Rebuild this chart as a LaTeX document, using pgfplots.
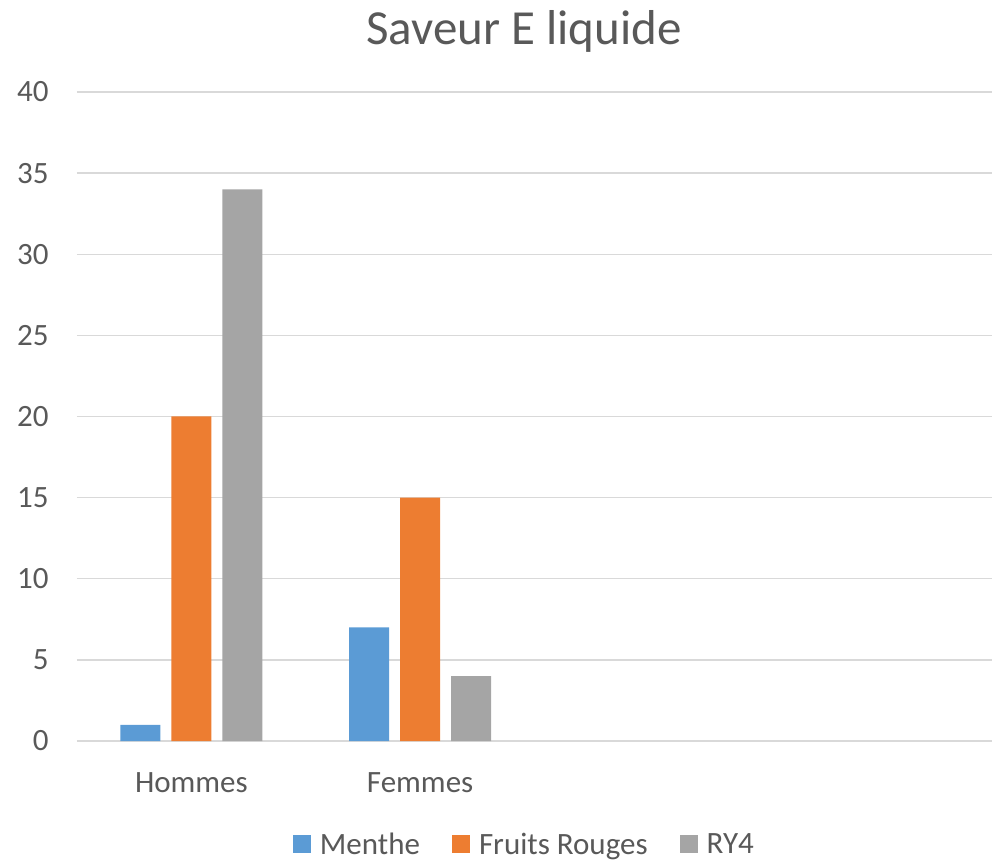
\documentclass[border=0pt]{standalone}
\usepackage{fontspec}
\setmainfont{Carlito}
\usepackage{pgfplots}
\pgfplotsset{compat=1.18}
\definecolor{cMenthe}{HTML}{5B9BD5}
\definecolor{cFruits}{HTML}{ED7D31}
\definecolor{cRY}{HTML}{A5A5A5}
\definecolor{cGrid}{HTML}{D9D9D9}
\definecolor{cText}{HTML}{595959}
\begin{document}
\begin{tikzpicture}[x=1pt,y=1pt]
\useasboundingbox (0,0) rectangle (992,861);
\begin{axis}[
  at={(77pt,120pt)}, anchor=south west,
  scale only axis, width=915pt, height=649pt,
  ybar=11pt, bar width=40pt,
  xmin=-0.5, xmax=3.5, ymin=0, ymax=40,
  xtick={0,1}, xticklabels={Hommes,Femmes},
  ytick={0,5,...,40},
  ymajorgrids, grid style={cGrid, line width=1.3pt},
  axis x line*=bottom, axis y line*=left,
  x axis line style={cGrid, line width=1.3pt, -},
  y axis line style={draw=none},
  major tick length=0pt,
  tick label style={font=\fontsize{31}{37}\selectfont, text=cText},
  /pgf/number format/assume math mode=true,
  yticklabel style={xshift=-25pt},
  xticklabel style={yshift=-28pt},
  legend style={at={(0.489,-0.135)}, anchor=north, draw=none, legend columns=3,
    font=\fontsize{31}{37}\selectfont, text=cText,
    /tikz/every even column/.append style={column sep=30pt},
    /tikz/every odd column/.append style={column sep=7pt}},
  legend image code/.code={\fill[#1] (0pt,-9pt) rectangle (18pt,9pt);},
]
\addplot[fill=cMenthe, draw=none] coordinates {(0,1) (1,7)};
\addplot[fill=cFruits, draw=none] coordinates {(0,20) (1,15)};
\addplot[fill=cRY, draw=none] coordinates {(0,34) (1,4)};
\legend{Menthe,Fruits Rouges,RY4}
\end{axis}
\node[text=cText, font=\fontsize{49}{58}\selectfont] at (524,830) {Saveur E liquide};
\end{tikzpicture}
\end{document}
